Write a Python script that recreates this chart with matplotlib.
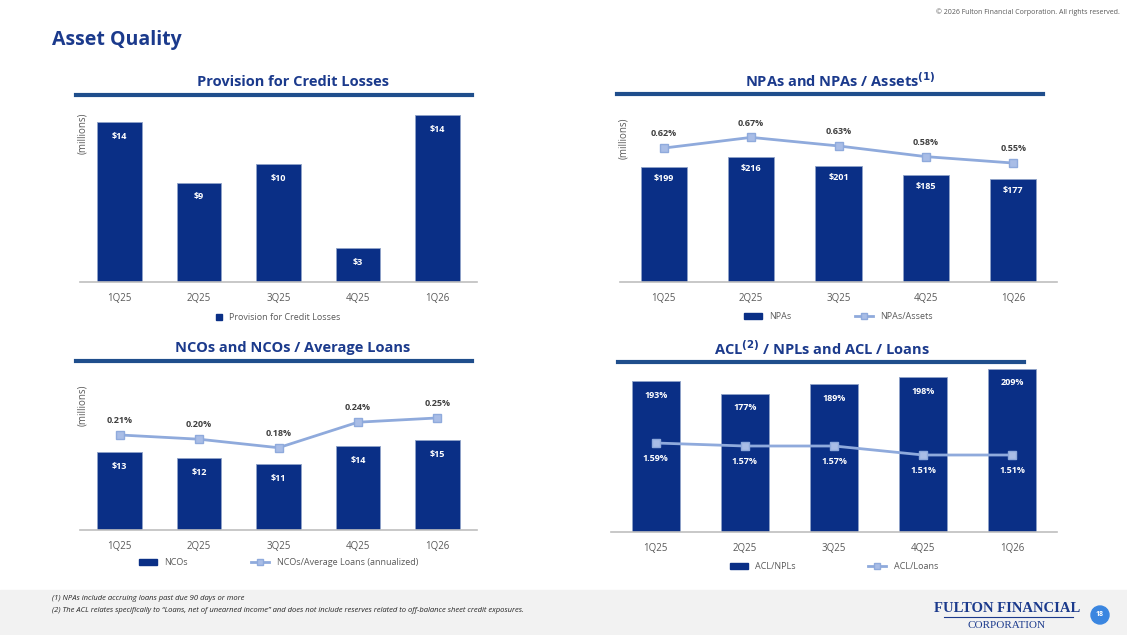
import matplotlib
matplotlib.use("Agg")
import matplotlib.pyplot as plt
from matplotlib.lines import Line2D
from matplotlib.patches import Rectangle, Ellipse

plt.rcParams['font.family'] = ['Open Sans', 'DejaVu Sans']

quarters = ["1Q25", "2Q25", "3Q25", "4Q25", "1Q26"]
provision = [13.7, 8.5, 10.1, 2.9, 14.3]
provision_labels = ["$14", "$9", "$10", "$3", "$14"]
npas = [199, 216, 201, 185, 177]
npa_ratio = [0.62, 0.67, 0.63, 0.58, 0.55]
ncos = [13, 12, 11, 14, 15]
nco_ratio = [0.21, 0.20, 0.18, 0.24, 0.25]
acl_npl = [193, 177, 189, 198, 209]
acl_loans = [1.59, 1.57, 1.57, 1.51, 1.51]

W, H = 1127, 635
NAVY = "#0A2F86"
TITLE = "#1B3A8C"
RULE = "#1F4E8C"
LINE = "#8FAADC"
GRAY = "#595959"

fig = plt.figure(figsize=(W / 100, H / 100), dpi=100)


def fx(x):
    return x / W


def fy(y):
    return 1 - y / H


def add_ax(x0, x1, ytop, ybase):
    return fig.add_axes([fx(x0), fy(ybase), fx(x1 - x0), (ybase - ytop) / H])


def style(ax):
    for s in ["top", "right", "left"]:
        ax.spines[s].set_visible(False)
    ax.spines["bottom"].set_color("#BFBFBF")
    ax.spines["bottom"].set_linewidth(1.2)
    ax.set_yticks([])
    ax.tick_params(axis="x", length=0, colors=GRAY, labelsize=7, pad=8)
    ax.set_xlim(-0.5, 4.5)


def panel_title(text, xc, y, x0, x1):
    fig.text(fx(xc), fy(y), text, ha="center", va="center", fontsize=10.5,
             fontweight="bold", color=TITLE)
    fig.add_artist(Line2D([fx(x0), fx(x1)], [fy(y + 13), fy(y + 13)], color=RULE, lw=3))


def bar_labels(ax, vals, labels, offset):
    for i, (v, t) in enumerate(zip(vals, labels)):
        ax.annotate(t, (i, v), xytext=(0, -offset), textcoords="offset points",
                    ha="center", va="top", color="white", fontsize=6.5, fontweight="bold")


def ratio_legend(ax, names, spacing):
    handles = [Rectangle((0, 0), 1, 1, color=NAVY),
               Line2D([], [], color=LINE, lw=2, marker="s", markersize=5, markerfacecolor="#A9BDE6")]
    ax.legend(handles, names, loc="upper center", bbox_to_anchor=(0.5, -0.13), frameon=False,
              fontsize=6.5, ncol=2, columnspacing=spacing, handlelength=2, handleheight=0.6,
              labelcolor=GRAY)


# header
fig.text(fx(52), fy(40), "Asset Quality", fontsize=14, fontweight="bold", color=TITLE, va="center")
fig.text(fx(1120), fy(12), "© 2026 Fulton Financial Corporation. All rights reserved.",
         fontsize=5, color=GRAY, ha="right", va="center")

# panel 1
panel_title("Provision for Credit Losses", 293, 82, 76, 472)
ax1 = add_ax(80, 477, 105, 282)
style(ax1)
ax1.bar(range(5), provision, width=0.56, color=NAVY, edgecolor="#8FA3C8", linewidth=0.6)
ax1.set_ylim(0, 15.15)
ax1.set_xticks(range(5), quarters)
bar_labels(ax1, provision, provision_labels, 7)
fig.text(fx(83), fy(133), "(millions)", rotation=90, fontsize=7, color=GRAY, ha="center", va="center")
ax1.legend([Rectangle((0, 0), 1, 1, color=NAVY)], ["Provision for Credit Losses"],
           loc="upper center", bbox_to_anchor=(0.5, -0.13), frameon=False, fontsize=6.5,
           handlelength=0.6, handleheight=0.6, labelcolor=GRAY)

# panel 2
panel_title("NPAs and NPAs / Assets$^{\\mathbf{(1)}}$", 840, 81, 617, 1043)
ax2 = add_ax(620, 1057, 110, 282)
style(ax2)
ax2.bar(range(5), npas, width=0.53, color=NAVY, edgecolor="#8FA3C8", linewidth=0.6)
ax2.set_ylim(0, 297)
ax2.set_xticks(range(5), quarters)
bar_labels(ax2, npas, ["$%d" % v for v in npas], 5)
ax2b = ax2.twinx()
ax2b.set_ylim(-0.006, 0.798)
ax2b.axis("off")
ax2b.plot(range(5), npa_ratio, color=LINE, lw=2, marker="s", markersize=6,
          markerfacecolor="#A9BDE6", markeredgecolor="#8FAADC")
for i, v in enumerate(npa_ratio):
    ax2b.annotate("%.2f%%" % v, (i, v), xytext=(0, 7), textcoords="offset points",
                  ha="center", va="bottom", fontsize=6.5, fontweight="bold", color="#404040")
fig.text(fx(624), fy(138), "(millions)", rotation=90, fontsize=7, color=GRAY, ha="center", va="center")
ratio_legend(ax2, ["NPAs", "NPAs/Assets"], 7)

# panel 3
panel_title("NCOs and NCOs / Average Loans", 293, 348, 76, 472)
ax3 = add_ax(80, 477, 375, 530)
style(ax3)
ax3.bar(range(5), ncos, width=0.56, color=NAVY, edgecolor="#8FA3C8", linewidth=0.6)
ax3.set_ylim(0, 25.8)
ax3.set_xticks(range(5), quarters)
bar_labels(ax3, ncos, ["$%d" % v for v in ncos], 7)
ax3b = ax3.twinx()
ax3b.set_ylim(-0.0135, 0.351)
ax3b.axis("off")
ax3b.plot(range(5), nco_ratio, color=LINE, lw=2, marker="s", markersize=6,
          markerfacecolor="#A9BDE6", markeredgecolor="#8FAADC")
for i, v in enumerate(nco_ratio):
    ax3b.annotate("%.2f%%" % v, (i, v), xytext=(0, 7), textcoords="offset points",
                  ha="center", va="bottom", fontsize=6.5, fontweight="bold", color="#404040")
fig.text(fx(83), fy(405), "(millions)", rotation=90, fontsize=7, color=GRAY, ha="center", va="center")
ratio_legend(ax3, ["NCOs", "NCOs/Average Loans (annualized)"], 7)

# panel 4
panel_title("ACL$^{\\mathbf{(2)}}$ / NPLs and ACL / Loans", 822, 349, 618, 1024)
ax4 = add_ax(611, 1057, 360, 532)
style(ax4)
ax4.bar(range(5), acl_npl, width=0.54, color=NAVY, edgecolor="#8FA3C8", linewidth=0.6)
ax4.set_ylim(0, 220)
ax4.set_xticks(range(5), quarters)
bar_labels(ax4, acl_npl, ["%d%%" % v for v in acl_npl], 7)
ax4b = ax4.twinx()
ax4b.set_ylim(0.997, 2.143)
ax4b.axis("off")
ax4b.plot(range(5), acl_loans, color=LINE, lw=2, marker="s", markersize=6,
          markerfacecolor="#A9BDE6", markeredgecolor="#8FAADC")
for i, v in enumerate(acl_loans):
    ax4b.annotate("%.2f%%" % v, (i, v), xytext=(0, -8), textcoords="offset points",
                  ha="center", va="top", fontsize=6.5, fontweight="bold", color="white")
ratio_legend(ax4, ["ACL/NPLs", "ACL/Loans"], 8)

# footer
fig.add_artist(Rectangle((0, 0), 1, fy(590), transform=fig.transFigure, color="#F2F2F2", zorder=-5))
fig.text(fx(52), fy(599), "(1) NPAs include accruing loans past due 90 days or more",
         fontsize=5.5, style="italic", color="#262626", va="center")
fig.text(fx(52), fy(610), "(2) The ACL relates specifically to \u201cLoans, net of unearned income\u201d and does not include reserves related to off-balance sheet credit exposures.",
         fontsize=5.5, style="italic", color="#262626", va="center")
fig.text(fx(1007), fy(608), "FULTON FINANCIAL", fontsize=10.5, family="Liberation Serif",
         fontweight="bold", color=TITLE, ha="center", va="center")
fig.add_artist(Line2D([fx(944), fx(1073)], [fy(617), fy(617)], color=TITLE, lw=0.8))
fig.text(fx(1007), fy(626), "CORPORATION", fontsize=8, family="Liberation Serif",
         color=TITLE, ha="center", va="center")
fig.add_artist(Ellipse((fx(1100), fy(615)), 18 / W, 18 / H, transform=fig.transFigure, color="#3A86E0"))
fig.text(fx(1100), fy(615), "18", fontsize=5, color="white", ha="center", va="center", fontweight="bold")

fig.savefig("out.png", dpi=100)
